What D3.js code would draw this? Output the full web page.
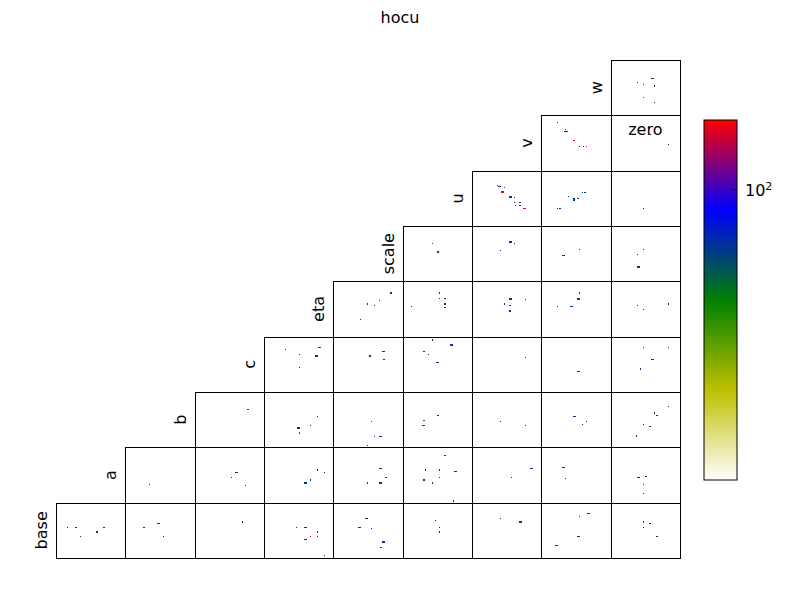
<!DOCTYPE html>
<html><head><meta charset="utf-8">
<script src="https://cdn.jsdelivr.net/npm/d3@7"></script>
<style>body{margin:0;background:#fff;} text{font-family:"DejaVu Sans",sans-serif;}</style>
</head><body>
<svg id="chart" width="800" height="600"></svg>
<script>
// ---- data ----
const title = "hocu";
const rowNames = ["w","v","u","scale","eta","c","b","a","base"];  // top to bottom
const cornerLabel = "zero";
const nBins = 50;
const countDomain = [1, 300];
const colorbarTicks = [100];
const cmapStops = [0, 0.25, 0.5, 0.75, 1];
const cmapColors = ["#ffffff", "#bfbf00", "#008000", "#0000ff", "#ff0000"];
const B = 40, R = 290;
// cells: [row, col, binX, binY, count]
const cells = [
 [0,8,19,29,B],[0,8,29,33,B],[0,8,30,33,B],[0,8,23,27,B],[0,8,31,26,B],[0,8,23,16,R],[0,8,31,11,B],
 [1,7,11,43,B],[1,7,17,37,B],[1,7,16,35,B],[1,7,17,35,B],[1,7,18,35,B],[1,7,23,27,R],[1,7,27,21,B],[1,7,30,21,B],[1,7,32,21,R],
 [1,8,28,32,B],[1,8,41,23,B],
 [2,6,18,36,B],[2,6,19,35,B],[2,6,20,35,B],[2,6,23,34,B],[2,6,21,30,R],[2,6,22,30,R],[2,6,21,31,R],[2,6,22,31,R],
 [2,6,27,25,B],[2,6,28,25,B],[2,6,27,26,B],[2,6,28,26,B],[2,6,30,25,B],[2,6,30,21,B],[2,6,34,21,B],[2,6,31,18,B],[2,6,34,18,B],[2,6,37,15,R],[2,6,38,15,R],
 [2,7,11,15,B],[2,7,13,15,B],[2,7,19,26,B],[2,7,23,24,B],[2,7,23,23,B],[2,7,26,24,B],[2,7,29,30,B],[2,7,31,30,B],
 [2,8,23,15,B],
 [3,5,21,34,B],[3,5,25,26,B],
 [3,6,27,35,B],[3,6,28,35,B],[3,6,30,34,B],[3,6,20,27,B],
 [3,7,27,28,B],[3,7,15,23,B],[3,7,16,23,B],
 [3,8,23,28,B],[3,8,19,24,B],[3,8,19,13,B],[3,8,20,13,B],[3,8,19,12,B],[3,8,20,12,B],
 [4,4,41,39,B],[4,4,33,32,B],[4,4,24,29,B],[4,4,29,28,B],[4,4,19,15,B],
 [4,5,26,39,B],[4,5,26,34,B],[4,5,30,34,B],[4,5,30,29,B],[4,5,30,26,B],[4,5,6,27,B],
 [4,6,27,33,B],[4,6,28,33,B],[4,6,27,34,B],[4,6,28,34,B],[4,6,38,33,B],[4,6,23,29,B],[4,6,27,28,B],[4,6,27,23,B],[4,6,27,22,B],
 [4,7,27,39,B],[4,7,26,33,B],[4,7,27,33,B],[4,7,26,34,B],[4,7,27,34,B],[4,7,21,27,B],[4,7,22,27,B],[4,7,11,27,B],
 [4,8,19,28,B],[4,8,41,29,B],[4,8,23,24,B],
 [5,3,15,38,B],[5,3,39,40,B],[5,3,40,40,B],[5,3,25,33,B],[5,3,37,32,B],[5,3,38,32,B],[5,3,25,22,B],
 [5,4,35,36,B],[5,4,36,36,B],[5,4,26,32,B],[5,4,36,29,B],
 [5,5,21,46,B],[5,5,21,47,B],[5,5,34,42,B],[5,5,35,42,B],[5,5,15,36,B],[5,5,18,33,B],[5,5,24,26,B],[5,5,25,26,B],
 [5,6,38,31,B],
 [5,7,26,18,B],[5,7,27,18,B],
 [5,8,23,40,B],[5,8,41,40,B],[5,8,29,29,B],[5,8,30,29,B],[5,8,21,21,B],[5,8,21,20,B],
 [6,2,38,34,B],
 [6,3,38,27,B],[6,3,33,19,B],[6,3,24,17,B],[6,3,25,17,B],[6,3,25,13,B],[6,3,25,12,B],
 [6,4,27,23,R],[6,4,29,9,B],[6,4,33,9,B],[6,4,34,9,B],[6,4,24,1,B],
 [6,5,25,28,B],[6,5,15,24,B],[6,5,14,19,B],[6,5,15,19,B],
 [6,6,20,23,B],[6,6,38,19,B],
 [6,7,23,27,B],[6,7,24,27,B],[6,7,32,23,B],[6,7,29,20,B],
 [6,8,41,36,B],[6,8,31,30,B],[6,8,31,31,B],[6,8,33,28,B],[6,8,23,20,B],[6,8,28,18,B],[6,8,18,9,B],[6,8,18,10,B],
 [7,1,17,16,B],
 [7,2,29,27,B],[7,2,30,27,B],[7,2,26,22,B],[7,2,36,15,B],
 [7,3,38,29,B],[7,3,43,27,B],[7,3,33,20,B],[7,3,29,18,B],[7,3,30,18,B],[7,3,29,17,B],[7,3,30,17,B],
 [7,4,33,30,B],[7,4,34,30,B],[7,4,37,22,B],[7,4,38,22,B],[7,4,24,18,B],[7,4,24,17,B],[7,4,33,18,B],[7,4,34,18,B],[7,4,33,17,B],[7,4,34,17,B],
 [7,5,30,42,B],[7,5,16,29,B],[7,5,26,29,B],[7,5,37,28,B],[7,5,38,28,B],[7,5,15,20,B],[7,5,21,18,B],[7,5,21,17,B],[7,5,26,22,B],[7,5,36,1,B],
 [7,6,42,30,B],[7,6,43,30,B],[7,6,28,22,B],
 [7,7,15,31,B],[7,7,16,31,B],[7,7,17,21,B],
 [7,8,19,22,B],[7,8,20,22,B],[7,8,25,23,B],[7,8,23,16,B],[7,8,23,8,B],
 [8,0,8,27,B],[8,0,14,27,B],[8,0,34,27,B],[8,0,29,23,B],[8,0,17,19,B],
 [8,1,23,31,B],[8,1,24,31,B],[8,1,13,27,B],[8,1,27,19,B],
 [8,2,34,32,B],
 [8,3,23,27,B],[8,3,29,27,B],[8,3,30,27,B],[8,3,38,23,B],[8,3,33,19,R],[8,3,38,19,B],[8,3,29,16,B],[8,3,30,16,B],[8,3,43,2,B],
 [8,4,23,35,B],[8,4,24,35,B],[8,4,18,27,B],[8,4,19,27,B],[8,4,27,26,B],[8,4,35,14,B],[8,4,36,14,B],[8,4,34,9,B],
 [8,5,23,33,B],[8,5,26,27,B],[8,5,26,23,B],
 [8,6,20,35,B],[8,6,34,32,B],[8,6,35,32,B],
 [8,7,33,40,B],[8,7,34,40,B],[8,7,27,37,B],[8,7,26,19,B],[8,7,27,19,B],[8,7,10,11,B],[8,7,11,11,B],
 [8,8,23,32,B],[8,8,28,31,B],[8,8,23,27,B],[8,8,33,19,B]
];

// ---- layout ----
const svg = d3.select("#chart");
const gridL = 56, gridR = 680, gridT = 60, gridB = 558;
const n = rowNames.length;
const colX = d3.scaleBand().domain(d3.range(n)).range([gridL, gridR]).padding(0);
const rowY = d3.scaleBand().domain(d3.range(n)).range([gridT, gridB]).padding(0);
const pw = colX.bandwidth(), ph = rowY.bandwidth();
const binX = d3.scaleLinear().domain([0, nBins]).range([0, pw]);
const binY = d3.scaleLinear().domain([0, nBins]).range([ph, 0]);

const cmap = d3.scaleLinear().domain(cmapStops).range(cmapColors).clamp(true);
const logNorm = d3.scaleLog().domain(countDomain).range([0, 1]).clamp(true);
const color = c => cmap(logNorm(c));

svg.append("text").attr("x", 400).attr("y", 23).attr("text-anchor", "middle")
  .attr("font-size", 16).text(title);

// panels
const panels = [];
rowNames.forEach((name, r) => { for (let c = n - 1 - r; c < n; c++) panels.push({r, c}); });

const pg = svg.append("g");
pg.selectAll("rect.cell").data(cells).join("rect")
  .attr("class", "cell")
  .attr("x", d => colX(d[1]) + binX(d[2]))
  .attr("y", d => rowY(d[0]) + binY(d[3] + 1))
  .attr("width", binX(1) - binX(0))
  .attr("height", binY(0) - binY(1))
  .attr("fill", d => color(d[4]))
  .attr("shape-rendering", "crispEdges");

pg.selectAll("rect.frame").data(panels).join("rect")
  .attr("class", "frame")
  .attr("x", d => Math.round(colX(d.c)) + 0.5)
  .attr("y", d => Math.round(rowY(d.r)) + 0.5)
  .attr("width", d => Math.round(colX(d.c) + pw) - Math.round(colX(d.c)))
  .attr("height", d => Math.round(rowY(d.r) + ph) - Math.round(rowY(d.r)))
  .attr("fill", "none").attr("stroke", "#000").attr("stroke-width", 1);

// row labels
svg.selectAll("text.rowlab").data(rowNames).join("text")
  .attr("class", "rowlab")
  .attr("transform", (d, r) => `translate(${colX(n - 1 - r) - 9},${rowY(r) + ph / 2}) rotate(-90)`)
  .attr("text-anchor", "middle").attr("font-size", 16).text(d => d);

// corner label
svg.append("text").attr("x", colX(n - 1) + pw / 2).attr("y", rowY(1) + 20)
  .attr("text-anchor", "middle").attr("font-size", 16).text(cornerLabel);

// colorbar
const cbX = 704, cbW = 33, cbT = 120, cbB = 480;
const defs = svg.append("defs");
const grad = defs.append("linearGradient").attr("id", "cbgrad")
  .attr("x1", 0).attr("y1", 1).attr("x2", 0).attr("y2", 0);
grad.selectAll("stop").data(cmapStops).join("stop")
  .attr("offset", d => d).attr("stop-color", (d, i) => cmapColors[i]);
svg.append("rect").attr("x", cbX).attr("y", cbT).attr("width", cbW).attr("height", cbB - cbT)
  .attr("fill", "url(#cbgrad)").attr("stroke", "#000").attr("stroke-width", 1);
const cbScale = d3.scaleLog().domain(countDomain).range([cbB, cbT]);
const cbAxis = svg.append("g").attr("transform", `translate(${cbX + cbW},0)`)
  .call(d3.axisRight(cbScale).tickValues(colorbarTicks).tickSizeInner(-6).tickSizeOuter(0).tickPadding(8).tickFormat(""));
cbAxis.select(".domain").remove();
cbAxis.selectAll(".tick line").attr("stroke", "#000");
cbAxis.selectAll(".tick text").each(function(d) {
  const t = d3.select(this).attr("font-size", 16).attr("font-family", "DejaVu Sans").attr("dy", "0.4em");
  const e = Math.round(Math.log10(d));
  t.append("tspan").text("10");
  t.append("tspan").attr("font-size", 11).attr("dy", "-0.55em").text(e);
});
</script>
</body></html>
